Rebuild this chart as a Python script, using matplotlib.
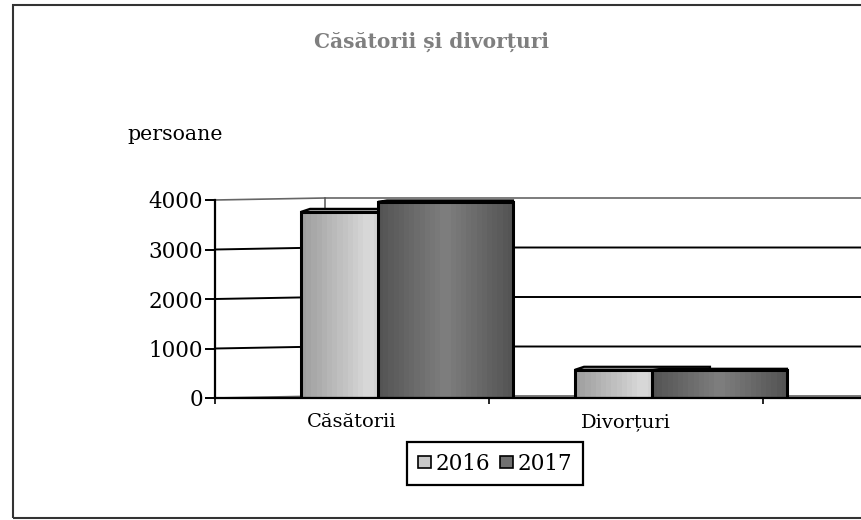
import numpy as np
import matplotlib
matplotlib.use('Agg')
import matplotlib.pyplot as plt
from matplotlib.patches import Patch, Polygon, Rectangle

plt.rcParams['font.family'] = ['DejaVu Serif']

# date
categorii = ['Căsătorii', 'Divorțuri']
serii = ['2016', '2017']
valori_2016 = [3760, 570]
valori_2017 = [3960, 560]
y_ticks = [0, 1000, 2000, 3000, 4000]

W, H = 861, 520
fig = plt.figure(figsize=(W / 100, H / 100), dpi=100, facecolor='white')

# chenarul exterior, taiat in dreapta
fig.add_artist(Rectangle((13 / W, 1 - 518 / H), 900 / W, 513 / H, transform=fig.transFigure,
                         fill=False, edgecolor='#333333', linewidth=1.5))

ax = fig.add_axes([215 / W, 1 - 398 / H, (W - 215) / W, 198 / H])
ax.patch.set_alpha(0)
xmin, xmax = -0.5, 1.858
ax.set_ylim(0, 4000)

px_x = 1 / 274      # un pixel pe x, in unitati de categorie
px_y = 4000 / 198   # un pixel pe y, in persoane

# peretele din spate (efectul 3D)
perete_dx = 110 * px_x
perete_dy = 2 * px_y
for v in y_ticks:
    gri = v in (0, 4000)
    ax.plot([xmin, xmin + perete_dx, xmax], [v, v + perete_dy, v + perete_dy],
            color='#666666' if gri else 'black', lw=1.2 if gri else 1.4,
            clip_on=False, zorder=1, solid_joinstyle='miter')
ax.plot([xmin + perete_dx] * 2, [perete_dy, 4000 + perete_dy], color='#555555', lw=1.1,
        clip_on=False, zorder=1)


def deseneaza_bare(x, valori, culoare, margine, centru, z, adancime):
    w = 135 * px_x
    bare = ax.bar(x, valori, width=w, align='edge', color=culoare, linewidth=0, zorder=z)
    trepte = np.linspace(margine, centru, 13)
    gradient = np.concatenate([trepte, trepte[::-1]])[None, :]
    for b in bare:
        im = ax.imshow(gradient, cmap='gray', vmin=0, vmax=1, aspect='auto',
                       interpolation='nearest', zorder=z + 0.1,
                       extent=[b.get_x(), b.get_x() + w, 0, b.get_height()])
        im.set_clip_path(b)
        # capacul barei
        dx, dy = adancime
        ax.add_patch(Polygon([(b.get_x(), b.get_height()),
                              (b.get_x() + dx * px_x, b.get_height() + dy * px_y),
                              (b.get_x() + w, b.get_height() + dy * px_y),
                              (b.get_x() + w, b.get_height())],
                             closed=True, facecolor=culoare, edgecolor='black', lw=1.6,
                             zorder=z + 0.2, clip_on=False))
    ax.bar(x, valori, width=w, align='edge', fill=False, edgecolor='black', linewidth=2.2,
           zorder=z + 0.3)
    return bare


poz = np.arange(len(categorii))
deseneaza_bare(poz - 0.186, valori_2016, '#c8c8c8', 0.62, 0.84, 3, (9, 3))
deseneaza_bare(poz + 0.095, valori_2017, '#707070', 0.33, 0.49, 4, (9, 1.5))

ax.set_xlim(xmin, xmax)
ax.set_ylim(0, 4000)

for s in ['top', 'right']:
    ax.spines[s].set_visible(False)
for s in ['left', 'bottom']:
    ax.spines[s].set_linewidth(1.6)
    ax.spines[s].set_zorder(6)

ax.set_yticks(y_ticks)
ax.tick_params(axis='y', length=7, width=1.4, labelsize=15.5, pad=1.5)
ax.set_xticks(poz)
ax.set_xticklabels(categorii)
ax.tick_params(axis='x', which='major', length=0, labelsize=14, pad=11)
ax.set_xticks([-0.5, 0.5, 1.5], minor=True)
ax.tick_params(axis='x', which='minor', length=4, width=1.2)

fig.text(432 / W, 1 - 42 / H, 'Căsătorii și divorțuri', ha='center', va='center',
         fontsize=14.5, fontweight='bold', color='#7f7f7f')
fig.text(175.5 / W, 1 - 134 / H, 'persoane', ha='center', va='center', fontsize=14.8)

handles = [Patch(facecolor='#c8c8c8', edgecolor='black', linewidth=1.2),
           Patch(facecolor='#707070', edgecolor='black', linewidth=1.2)]
leg = fig.legend(handles, serii, ncol=2, loc='center', bbox_to_anchor=(495 / W, 1 - 463.5 / H),
                 fontsize=15.5, fancybox=False, framealpha=1, edgecolor='black',
                 handlelength=0.62, handleheight=0.45, handletextpad=0.2, columnspacing=0.45,
                 borderpad=0.5, borderaxespad=0)
leg.get_frame().set_linewidth(1.6)

fig.savefig('out.png', dpi=100)
